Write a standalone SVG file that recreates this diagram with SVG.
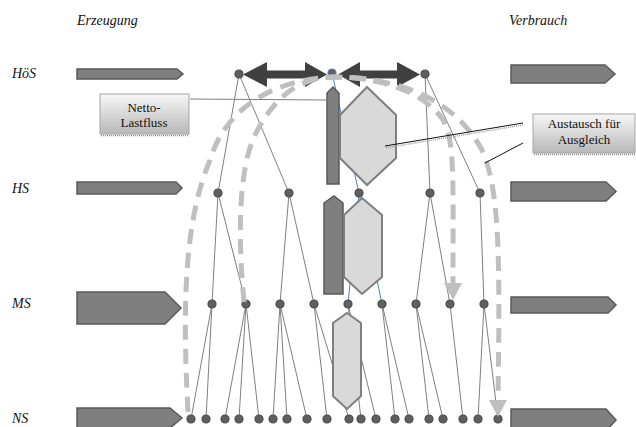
<svg xmlns="http://www.w3.org/2000/svg" width="636" height="427" viewBox="0 0 636 427">
<defs>
<linearGradient id="lbl" x1="0" y1="0" x2="0" y2="1">
<stop offset="0" stop-color="#f7f7f7"/><stop offset="1" stop-color="#b8b8b8"/>
</linearGradient>
<style>
text{font-family:'Liberation Serif','Times New Roman','DejaVu Serif',serif;font-size:13px;fill:#111}
.i{font-style:italic;font-size:14px}
.e{stroke:#7f7f7f;stroke-width:1;fill:none}
.b{stroke:#4f81bd;stroke-width:1;fill:none}
.n{fill:#5f5f5f;stroke:#4a4a4a;stroke-width:1.2}
.ar{fill:#7f7f7f;stroke:#595959;stroke-width:1.5}
.hex{fill:#d9d9d9;stroke:#7f7f7f;stroke-width:2}
.bar{fill:#7f7f7f;stroke:#595959;stroke-width:1.5}
.dash{fill:none;stroke:#bfbfbf;stroke-width:5;stroke-dasharray:15 9}
.dh{fill:#bfbfbf}
.dk{fill:#404040}
.box{fill:url(#lbl);stroke:#a6a6a6;stroke-width:1}
.sh{stroke:#8c8c8c;stroke-width:1.5;stroke-dasharray:1 1;fill:none}
</style>
</defs>
<rect width="636" height="427" fill="#fff"/>

<g id="headings">
<text class="i" x="77" y="25">Erzeugung</text>
<text class="i" x="509" y="25">Verbrauch</text>
<text class="i" x="12" y="78">HöS</text>
<text class="i" x="12" y="193">HS</text>
<text class="i" x="12" y="308">MS</text>
<text class="i" x="12" y="423">NS</text>
</g>

<g id="erzeugung">
<polygon class="ar" points="77,69 177,69 183,74 177,79 77,79"/>
<polygon class="ar" points="77,182 176,182 182,188 176,194 77,194"/>
<polygon class="ar" points="77,292 165,292 181,308 165,324 77,324"/>
<polygon class="ar" points="77,408 170,408 182,418 170,428 77,428"/>
</g>

<g id="verbrauch">
<polygon class="ar" points="511,65 605,65 615,74 605,83 511,83"/>
<polygon class="ar" points="511,182 606,182 616,191.5 606,201 511,201"/>
<polygon class="ar" points="511,297 608,297 616,305 608,313 511,313"/>
<polygon class="ar" points="511,409 606,409 616,420 606,431 511,431"/>
</g>

<g id="connectors">
<line class="e" x1="239" y1="74" x2="218" y2="193"/>
<line class="e" x1="239" y1="74" x2="289" y2="193"/>
<line class="e" x1="425" y1="74" x2="430" y2="193"/>
<line class="e" x1="425" y1="74" x2="480" y2="193"/>
<line class="b" x1="332" y1="73" x2="359" y2="193"/>
<line class="e" x1="218" y1="193" x2="212" y2="304"/>
<line class="e" x1="218" y1="193" x2="246" y2="304"/>
<line class="e" x1="289" y1="193" x2="280" y2="304"/>
<line class="e" x1="289" y1="193" x2="314" y2="304"/>
<line class="b" x1="359" y1="193" x2="348" y2="304"/>
<line class="b" x1="359" y1="193" x2="382" y2="304"/>
<line class="e" x1="430" y1="193" x2="416" y2="304"/>
<line class="e" x1="430" y1="193" x2="450" y2="304"/>
<line class="e" x1="480" y1="193" x2="484" y2="304"/>
<line class="e" x1="212" y1="304" x2="191" y2="419"/>
<line class="e" x1="212" y1="304" x2="206" y2="419"/>
<line class="e" x1="246" y1="304" x2="225" y2="419"/>
<line class="e" x1="246" y1="304" x2="239" y2="419"/>
<line class="e" x1="246" y1="304" x2="259" y2="419"/>
<line class="e" x1="280" y1="304" x2="273" y2="419"/>
<line class="e" x1="280" y1="304" x2="287" y2="419"/>
<line class="e" x1="280" y1="304" x2="307" y2="419"/>
<line class="e" x1="314" y1="304" x2="327" y2="419"/>
<line class="e" x1="314" y1="304" x2="349" y2="419"/>
<line class="e" x1="348" y1="304" x2="361" y2="419"/>
<line class="e" x1="348" y1="304" x2="376" y2="419"/>
<line class="e" x1="382" y1="304" x2="395" y2="419"/>
<line class="e" x1="382" y1="304" x2="409" y2="419"/>
<line class="e" x1="416" y1="304" x2="429" y2="419"/>
<line class="e" x1="416" y1="304" x2="443" y2="419"/>
<line class="e" x1="450" y1="304" x2="463" y2="419"/>
<line class="e" x1="484" y1="304" x2="478" y2="419"/>
<line class="e" x1="484" y1="304" x2="498" y2="419"/>
</g>

<g id="nodes">
<g id="hoes-nodes">
<circle class="n" cx="239" cy="74" r="4"/>
<circle class="n" cx="332" cy="73" r="4" style="stroke:#4f81bd"/>
<circle class="n" cx="425" cy="74" r="4"/>
</g>
<g id="hs-nodes">
<circle class="n" cx="218" cy="193" r="4"/>
<circle class="n" cx="289" cy="193" r="4"/>
<circle class="n" cx="359" cy="193" r="4"/>
<circle class="n" cx="430" cy="193" r="4"/>
<circle class="n" cx="480" cy="193" r="4"/>
</g>
<g id="ms-nodes">
<circle class="n" cx="212" cy="304" r="4"/>
<circle class="n" cx="246" cy="304" r="4"/>
<circle class="n" cx="280" cy="304" r="4"/>
<circle class="n" cx="314" cy="304" r="4"/>
<circle class="n" cx="348" cy="304" r="4"/>
<circle class="n" cx="382" cy="304" r="4"/>
<circle class="n" cx="416" cy="304" r="4"/>
<circle class="n" cx="450" cy="304" r="4"/>
<circle class="n" cx="484" cy="304" r="4"/>
</g>
<g id="ns-nodes">
<circle class="n" cx="191" cy="419" r="4"/>
<circle class="n" cx="206" cy="419" r="4"/>
<circle class="n" cx="225" cy="419" r="4"/>
<circle class="n" cx="239" cy="419" r="4"/>
<circle class="n" cx="259" cy="419" r="4"/>
<circle class="n" cx="273" cy="419" r="4"/>
<circle class="n" cx="287" cy="419" r="4"/>
<circle class="n" cx="307" cy="419" r="4"/>
<circle class="n" cx="327" cy="419" r="4"/>
<circle class="n" cx="349" cy="419" r="4"/>
<circle class="n" cx="361" cy="419" r="4"/>
<circle class="n" cx="376" cy="419" r="4"/>
<circle class="n" cx="395" cy="419" r="4"/>
<circle class="n" cx="409" cy="419" r="4"/>
<circle class="n" cx="429" cy="419" r="4"/>
<circle class="n" cx="443" cy="419" r="4"/>
<circle class="n" cx="463" cy="419" r="4"/>
<circle class="n" cx="478" cy="419" r="4"/>
<circle class="n" cx="498" cy="419" r="4"/>
</g>
</g>

<g id="exchange-arrows">
<polygon class="dk" points="243,74.5 267,62 267,70.5 305,70.5 305,62 327,74.5 305,87 305,78.5 267,78.5 267,87"/>
<polygon class="dk" points="338,74.5 360,62 360,70.5 397,70.5 397,62 420,74.5 397,87 397,78.5 360,78.5 360,87"/>
</g>

<g id="bars">
<polygon class="bar" points="327,93 333,87 339,93 339,184 327,184"/>
<polygon class="hex" points="367,87 396,115 396,158 367,185 340,158 340,115"/>
<polygon class="bar" points="324,203 334,196 343,203 343,294 324,294"/>
<polygon class="hex" points="362,198 382,215 382,277 362,294 344,277 344,215"/>
<polygon class="hex" points="347,313 361,323 361,396 347,409 333,396 333,323"/>
</g>

<g id="flows">
<path class="dash" d="M 188 412 C 182 300, 185 220, 210 160 C 225 110, 270 80, 333 77 C 400 77, 455 100, 482 150 C 500 190, 500 260, 498 400"/>
<polygon class="dh" points="489,400 507,400 498,417"/>
<path class="dash" d="M 244 302 C 238 240, 238 170, 255 135 C 275 95, 300 78, 333 77 C 380 77, 425 92, 443 120 C 455 140, 453 180, 453 283"/>
<polygon class="dh" points="444,283 462,283 453,300"/>
</g>

<g id="label-netto">
<line x1="190" y1="99" x2="328" y2="100" stroke="#7f7f7f" stroke-width="1"/>
<rect class="box" x="100" y="94" width="89" height="40"/>
<line class="sh" x1="101" y1="135.5" x2="189" y2="135.5"/>
<text x="144" y="112" text-anchor="middle">Netto-</text>
<text x="144" y="127" text-anchor="middle">Lastfluss</text>
</g>

<g id="label-austausch">
<line class="sh" x1="523" y1="125" x2="385" y2="148" style="stroke:#a0a0a0"/>
<line x1="523" y1="123" x2="385" y2="146" stroke="#111" stroke-width="1"/>
<line x1="523" y1="143" x2="485" y2="163" stroke="#111" stroke-width="1"/>
<rect class="box" x="533" y="114" width="102" height="39"/>
<line class="sh" x1="534" y1="154.5" x2="635" y2="154.5"/>
<text x="584" y="128" text-anchor="middle">Austausch für</text>
<text x="584" y="144" text-anchor="middle">Ausgleich</text>
</g>
</svg>
